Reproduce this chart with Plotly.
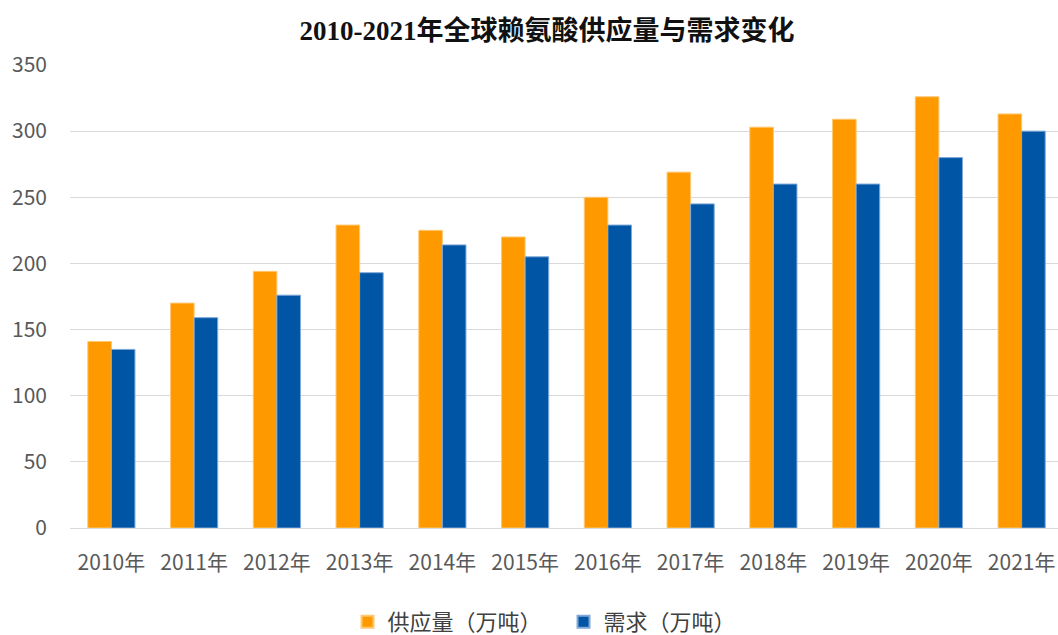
import plotly.graph_objects as go

years = ["2010年", "2011年", "2012年", "2013年", "2014年", "2015年",
         "2016年", "2017年", "2018年", "2019年", "2020年", "2021年"]
supply = [141, 170, 194, 229, 225, 220, 250, 269, 303, 309, 326, 313]
demand = [135, 159, 176, 193, 214, 205, 229, 245, 260, 260, 280, 300]
supply_name = "供应量（万吨）"
demand_name = "需求（万吨）"
title_text = "2010-2021年全球赖氨酸供应量与需求变化"

fig = go.Figure()
fig.add_trace(go.Bar(x=years, y=supply, name=supply_name,
                     marker=dict(color="#FF9900", line=dict(color="#FFC870", width=1))))
fig.add_trace(go.Bar(x=years, y=demand, name=demand_name,
                     marker=dict(color="#0055A5", line=dict(color="#7FA8D8", width=1))))

W = 1063
font_main = "Noto Sans CJK SC, Noto Sans, sans-serif"
fig.update_layout(
    width=W, height=635,
    margin=dict(l=70, r=0, t=65, b=107, autoexpand=False),
    paper_bgcolor="white", plot_bgcolor="white",
    barmode="group", bargap=0.43, bargroupgap=0,
    title=dict(text="<b>" + title_text + "</b>", x=547 / W, xanchor="center",
               y=1 - 31 / 635, yanchor="middle",
               font=dict(family="Liberation Serif, Noto Sans CJK SC, serif", size=27, color="#111111")),
    legend=dict(orientation="h", x=0.497, xanchor="center", y=-0.203, yanchor="middle",
                font=dict(family=font_main, size=22, color="#404040"),
                itemsizing="constant", traceorder="normal", entrywidth=171),
    font=dict(family=font_main, color="#595959"),
)
fig.update_xaxes(showgrid=False, showline=True, linecolor="#D9D9D9", linewidth=1, automargin=False,
                 tickfont=dict(size=21, color="#595959"), ticks="", ticklabelstandoff=16)
fig.update_yaxes(range=[0, 350], dtick=50, showgrid=True, gridcolor="#D9D9D9", gridwidth=1,
                 zeroline=False, showline=False, automargin=False,
                 tickfont=dict(size=21, color="#595959"), ticklabelstandoff=22)

fig.write_html("out.html", config={"displayModeBar": False},
               post_script="document.body.style.margin='0';document.body.style.overflow='hidden';"
                           "document.documentElement.style.overflow='hidden';")
